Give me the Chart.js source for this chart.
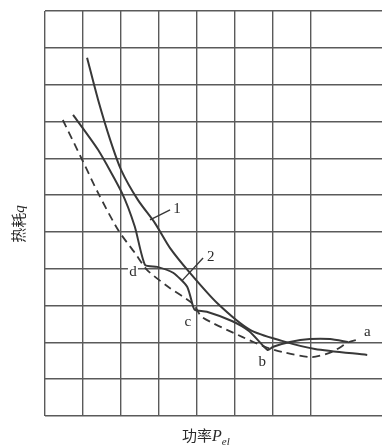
<!DOCTYPE html>
<html>
<head>
<meta charset="utf-8">
<script src="https://cdn.jsdelivr.net/npm/chart.js@4.4.1/dist/chart.umd.min.js"></script>
<style>
  html, body { margin: 0; padding: 0; background: #fff; }
  #wrap { width: 382px; height: 448px; }
</style>
</head>
<body>
<div id="wrap"><canvas id="myChart" width="382" height="448"></canvas></div>
<script>
// curve 1
var power1 = [1.11, 1.40, 1.72, 2.01, 2.45, 2.90, 3.30, 3.83, 4.54, 5.41, 6.25, 7.12, 8.50];
var heat1  = [9.73, 8.59, 7.50, 6.68, 5.87, 5.24, 4.56, 3.88, 3.07, 2.34, 2.04, 1.82, 1.66];

// curve 2 (d, c, b, a)
var power2 = [0.74, 1.40, 2.03, 2.37, 2.64, 2.96, 3.38, 3.75, 3.91, 3.96, 4.27, 4.93, 5.38, 5.78, 5.88, 6.02, 6.46, 6.99, 7.52, 7.99];
var heat2  = [8.18, 7.23, 6.06, 5.14, 4.10, 4.05, 3.89, 3.51, 2.96, 2.88, 2.83, 2.58, 2.31, 1.88, 1.79, 1.88, 2.01, 2.09, 2.09, 2.01];

// dashed envelope
var powerD = [0.47, 0.98, 1.40, 1.93, 2.37, 2.69, 3.22, 3.91, 4.14, 5.20, 5.80, 6.25, 7.04, 7.57, 8.02, 8.23];
var heatD  = [8.04, 6.96, 6.06, 5.05, 4.43, 3.97, 3.53, 3.04, 2.69, 2.15, 1.88, 1.74, 1.60, 1.74, 2.01, 2.07];

var xMax = 8.89, yMax = 11;

// little text marks on the curves
var marks = [
  { t: '1', x: 3.48, y: 5.62 },
  { t: '2', x: 4.37, y: 4.32 },
  { t: 'd', x: 2.32, y: 3.91 },
  { t: 'c', x: 3.77, y: 2.55 },
  { t: 'b', x: 5.73, y: 1.47 },
  { t: 'a', x: 8.50, y: 2.28 }
];
var leaders = [
  [[2.77, 5.33], [3.30, 5.60]],
  [[3.61, 3.67], [4.17, 4.29]]
];

function pts(xs, ys) {
  return xs.map(function (x, i) { return { x: x, y: ys[i] }; });
}

var lineCol = '#383838';
var gridCol = '#5a5a5a';

var textPlugin = {
  id: 'texts',
  afterDatasetsDraw: function (chart) {
    var c = chart.ctx, xs = chart.scales.x, ys = chart.scales.y;
    c.save();
    c.strokeStyle = lineCol;
    c.lineWidth = 1.4;
    leaders.forEach(function (l) {
      c.beginPath();
      c.moveTo(xs.getPixelForValue(l[0][0]), ys.getPixelForValue(l[0][1]));
      c.lineTo(xs.getPixelForValue(l[1][0]), ys.getPixelForValue(l[1][1]));
      c.stroke();
    });
    c.font = '15px "Liberation Serif"';
    c.textAlign = 'center';
    c.textBaseline = 'middle';
    marks.forEach(function (m) {
      var px = xs.getPixelForValue(m.x), py = ys.getPixelForValue(m.y);
      c.fillStyle = '#fff';
      c.fillRect(px - 5, py - 7, 10, 14);
      c.fillStyle = '#2a2a2a';
      c.fillText(m.t, px, py);
    });

    // x title: 功率P_el
    c.fillStyle = '#2a2a2a';
    c.textAlign = 'left';
    c.textBaseline = 'alphabetic';
    var bx = 182, by = 441;
    c.font = '15px "Noto Sans CJK SC"';
    c.fillText('功率', bx, by);
    bx += c.measureText('功率').width;
    c.font = 'italic 16px "Liberation Serif"';
    c.fillText('P', bx, by);
    bx += c.measureText('P').width;
    c.font = 'italic 11px "Liberation Serif"';
    c.fillText('el', bx, by + 4);

    // y title: 热耗q
    c.translate(24, 224);
    c.rotate(-Math.PI / 2);
    c.font = '15px "Noto Sans CJK SC"';
    var w1 = c.measureText('热耗').width;
    c.font = 'italic 15px "Liberation Serif"';
    var w2 = c.measureText('q').width;
    var sx = -(w1 + w2) / 2;
    c.font = '15px "Noto Sans CJK SC"';
    c.fillText('热耗', sx, 0);
    c.font = 'italic 15px "Liberation Serif"';
    c.fillText('q', sx + w1, 0);
    c.restore();
  }
};

function gridColor(ctx) {
  var v = ctx.tick ? ctx.tick.value : 0;
  return Math.abs(v - Math.round(v)) < 0.01 ? gridCol : 'rgba(0,0,0,0)';
}

var myChart = new Chart(document.getElementById('myChart').getContext('2d'), {
  type: 'line',
  data: {
    datasets: [
      { data: pts(power1, heat1), borderColor: lineCol, borderWidth: 2, pointRadius: 0, tension: 0.25, fill: false },
      { data: pts(power2, heat2), borderColor: lineCol, borderWidth: 2, pointRadius: 0, tension: 0.2, fill: false },
      { data: pts(powerD, heatD), borderColor: lineCol, borderWidth: 1.8, borderDash: [8, 5], pointRadius: 0, tension: 0.25, fill: false }
    ]
  },
  options: {
    responsive: false,
    animation: false,
    layout: { padding: { left: 45, top: 11, right: 0, bottom: 32 } },
    plugins: { legend: { display: false }, tooltip: { enabled: false } },
    scales: {
      x: {
        type: 'linear', min: 0, max: xMax,
        ticks: { display: false, stepSize: 1 },
        grid: { color: gridColor, lineWidth: 1.4, drawTicks: false },
        border: { display: false }
      },
      y: {
        type: 'linear', min: 0, max: yMax,
        ticks: { display: false, stepSize: 1 },
        grid: { color: gridColor, lineWidth: 1.4, drawTicks: false },
        border: { display: false }
      }
    }
  },
  plugins: [textPlugin]
});
</script>
</body>
</html>
